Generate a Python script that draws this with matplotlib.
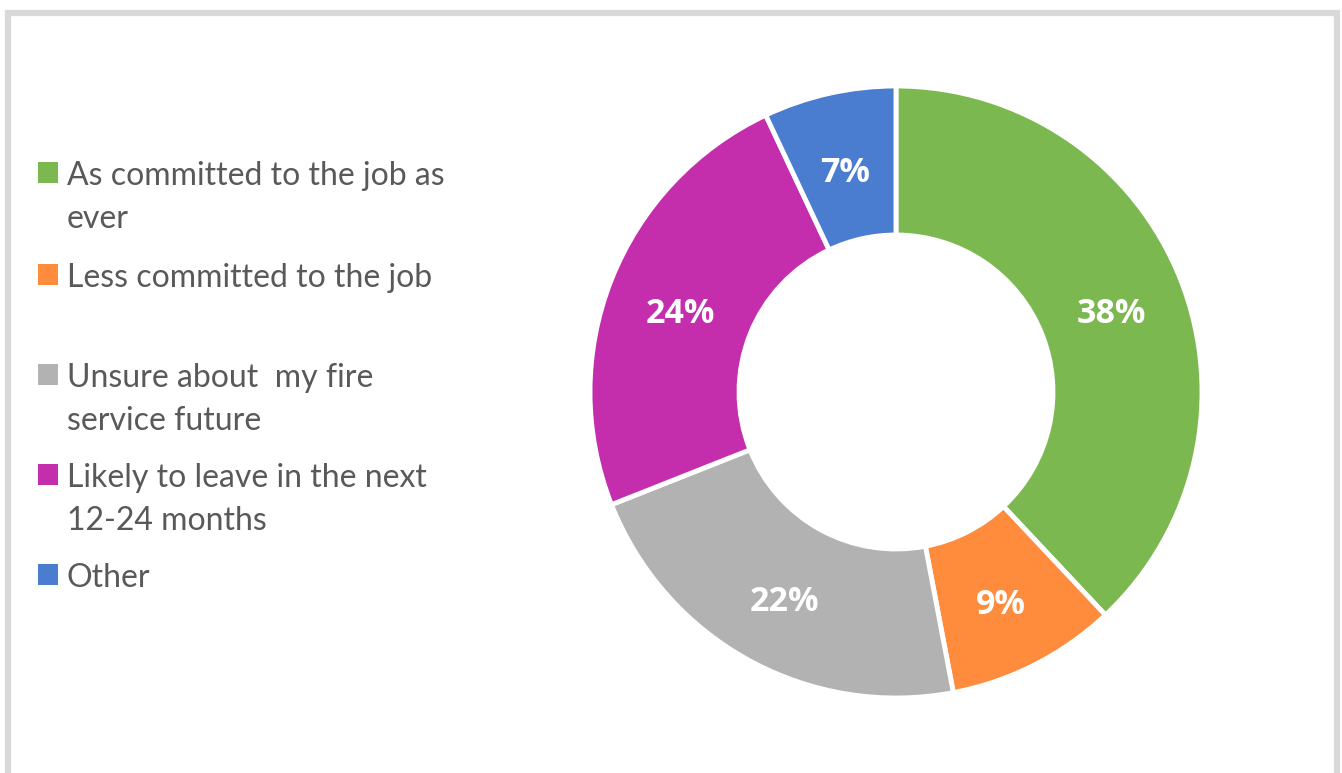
import numpy as np
import matplotlib.pyplot as plt
from matplotlib.patches import Rectangle

labels = ["As committed to the job as\never", "Less committed to the job",
          "Unsure about  my fire\nservice future", "Likely to leave in the next\n12-24 months", "Other"]
values = [38, 9, 22, 24, 7]
colors = ["#7CB850", "#FF8B3D", "#B2B2B2", "#C42EAD", "#4A7CCF"]

# baseline of the first line of each legend entry (pixels from the top)
legend_y = [185, 287, 387, 487, 587]

W, H = 1342, 773
fig = plt.figure(figsize=(W / 100, H / 100), dpi=100)
ax = fig.add_axes([0, 0, 1, 1])

# outer frame
ax.add_patch(Rectangle((8, -20), 1329, H - 13 + 20, fill=False,
                       edgecolor="#D9D9D9", linewidth=4.5))

cx, cy, r, r_in = 896, H - 392, 306, 157
wedges, texts = ax.pie(values, colors=colors, startangle=90, counterclock=False,
                       center=(cx, cy), radius=r, frame=True,
                       wedgeprops=dict(width=r - r_in, edgecolor="white", linewidth=3.5))
ax.set_xlim(0, W)
ax.set_ylim(0, H)
ax.set_aspect("equal")
ax.axis("off")

# percentage labels in the middle of the ring
start = 90.0
rl = (r + r_in) / 2
for v in values:
    mid = np.deg2rad(start - v * 3.6 / 2)
    start -= v * 3.6
    ax.text(cx + rl * np.cos(mid), cy + rl * np.sin(mid) - 7, f"{v}%", ha="center", va="center",
            color="white", fontsize=24.5, fontweight="bold", family="Open Sans")

for lab, col, y in zip(labels, colors, legend_y):
    ax.add_patch(Rectangle((38, H - y + 2), 20, 21, facecolor=col, edgecolor="none"))
    for i, line in enumerate(lab.split("\n")):
        ax.text(67, H - y - 42.5 * i, line, ha="left", va="baseline", fontsize=23,
                color="#595959", family="Lato")

fig.savefig("out.png", dpi=100, facecolor="white")
